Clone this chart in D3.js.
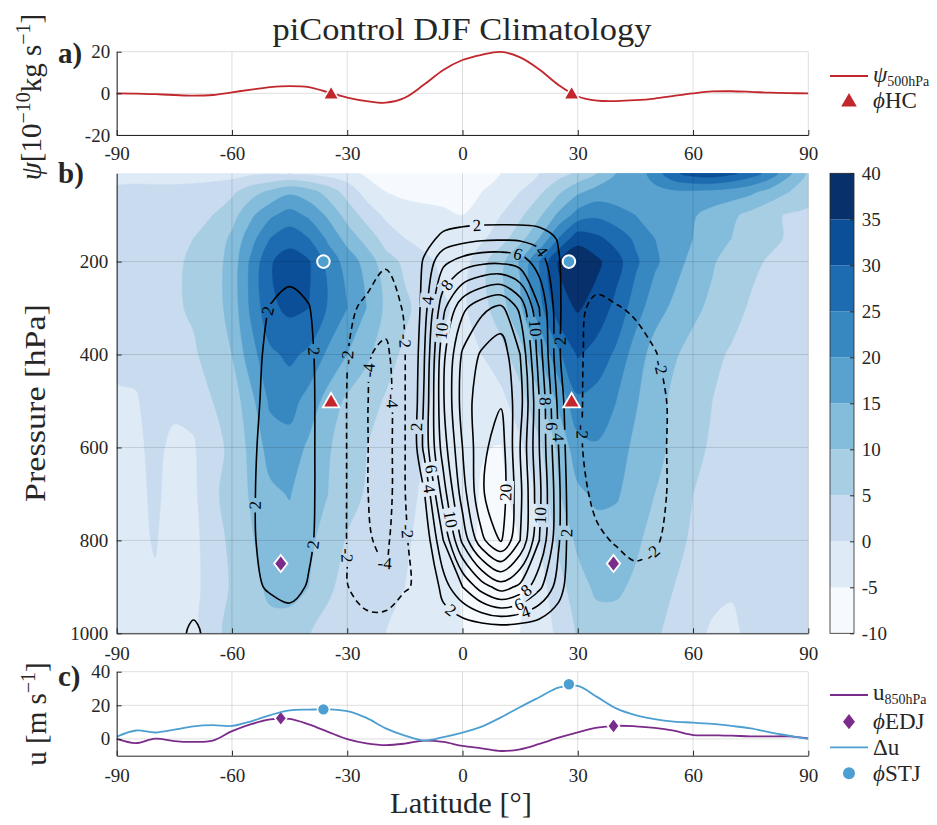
<!DOCTYPE html>
<html><head><meta charset="utf-8">
<script src="https://cdn.jsdelivr.net/npm/d3@7/dist/d3.min.js"></script>
<style>
body{margin:0;background:#fff;}
svg text{font-family:"Liberation Serif","Times New Roman",serif;fill:#262626;}
</style></head>
<body><svg id="chart" width="937" height="825" xmlns="http://www.w3.org/2000/svg"></svg>
<script>
// ---------------- DATA ----------------
const latTicks = [-90,-60,-30,0,30,60,90];
const psiTicks = [-20,0,20];
const presTicks = [200,400,600,800,1000];
const uTicks = [0,20,40];
const cbTicks = [-10,-5,0,5,10,15,20,25,30,35,40];

const lineLat = [-90,-85,-80,-75,-70,-65,-60,-55,-50,-45,-40,-35,-30,-25,-20,-15,-10,-5,0,5,10,15,20,25,30,35,40,45,50,55,60,65,70,75,80,85,90];
const psi500 = [0,-0.1,-0.4,-0.8,-1.1,-0.8,0.5,1.8,3,3.5,3,0.5,-2,-3.7,-4.5,-2.1,4.2,11.2,16,18.5,19.9,17.3,11.5,4,-1.5,-3.5,-3.7,-3.3,-2.5,-1.2,0,0.9,1,0.7,0.3,0.1,0];
const u850 = [0,-2.5,0.2,-1.3,-1.8,-1.0,4.6,8.8,11.6,11.9,8.6,4.2,-0.1,-2.6,-3.7,-2.8,-1.0,-1.8,-4.2,-5.6,-7.2,-6.2,-3,0.7,3.9,6.7,7.8,7.5,6.6,4.9,2.3,2.1,1.9,1.5,1.5,1.5,0.3];
const deltaU = [1.3,5,3.8,5.5,7.5,8.2,7.7,10.5,14.2,17,17.4,17.6,16.5,12.5,6.3,2,-1,1,3.7,7.3,12.8,19,24.8,30.5,31.5,25,18.2,14.2,11.8,10.3,9.7,8.9,7.7,6.3,3.9,1.9,0];

const hcLat = [-34.2, 28.4];   const hcPsi = [0, 0];      const hcPres = [500, 500];
const stjLat = [-36.2, 27.7];  const stjU = [17.6, 32.5]; const stjPres = [200, 200];
const edjLat = [-47.3, 39.3];  const edjU = [12.3, 7.7];  const edjPres = [850, 850];

// zonal-mean field grid (columns = latitude, entries = pressure levels)
const gridLat = lineLat;
const gridPres = [10,50,100,150,200,300,400,500,600,700,800,900,1000];
const uCols = [
 [-2,1,2,2.5,2.5,2.5,0.8,-0.5,-1,-1,-1,-1.2,-1.5],
 [-2,1.5,3,3,3,3,1,-0.3,-0.8,-1,-1,-1.2,-1.5],
 [-3,2,3.5,3.5,3.5,3.5,2.5,1.5,1,0.7,0.3,-0.5,-1],
 [-3,2,4,4,4.5,4.5,3,1,-1,-1.5,-2,-2,-2],
 [-3,2.5,4.5,5,5.5,5.5,4.5,1.5,-0.5,-1,-1.5,-1.5,-1.5],
 [-2.5,3,5,6.5,7.5,7.5,6.5,5,3.5,4,3,2.5,3.5],
 [-2,4,8,11,12,12,10,7,6,7,6,5.5,6.5],
 [-1,8,14,18,21,21,18,13.5,11.5,10.5,9.5,8.5,7.5],
 [-0.5,11,19,25,29.5,29,24,21,17,14,12.5,11,8.5],
 [0,14,22,28,32.5,31,26,22,18,15.3,13,11.5,8],
 [-1,12,19,25,30.5,30,24,18,14,11.5,11,10,5.2],
 [-2,8,14,19,23,24.5,19,13,10.5,10,8,6,3],
 [-3,3,8,13,18,20,15,9,7.5,7,4.5,3,1],
 [-6,-2,3,8,13,15,11,7,5,4.5,3,2,0.5],
 [-8,-5,-1,3,7,9,7,4.5,3,2.5,2,1,0],
 [-8,-6,-3,0,4,6,4,2.5,1.5,1,0.5,0,-1],
 [-7,-6,-4,-1.5,1,3,1.5,0.5,0,-0.5,-1,-1.5,-2],
 [-6.5,-6,-4.5,-2.5,-1,0.5,-0.5,-1,-1.5,-2,-2.5,-3.5,-3.5],
 [-6.5,-6,-5,-3,-2.5,-1,-1.5,-2,-2.5,-3.5,-4,-5.2,-5],
 [-6,-5,-3.5,-1,3.5,3,0,-2.5,-4.8,-5.3,-5.5,-6,-5.5],
 [-5,-3,0,3,8.5,8,3,-1.5,-5.2,-5.6,-6,-6.5,-6],
 [-3,0,4,8,15.5,14,8,3,-1,-4,-5,-5.5,-5],
 [0,4,9,15,25,23,15,9,4,1,0,-2,-3],
 [3,9,16,25,35.5,33,24,16,11,9.5,6,3,1],
 [6,14,22,33,39,35.5,30.5,24,18,14,11,8,5.5],
 [10,17,24,31,36,33,28,23,19.5,16,13,11,7.5],
 [15,17,22,28,32,28.5,24,20,17,15.5,13,11,7.5],
 [17,18,20,24,26,22.5,17.5,15.5,14,13,11,9,6.5],
 [22,18.5,18.5,20,21,17,13,12,11.5,10,8,7,5.5],
 [29,19,17.5,17.5,17,14,10.5,9,9,7.5,6,5,4],
 [32,19,15.5,15,13.5,11,8.5,7,6,5,4.5,4,2],
 [33,18.5,13,12,10.5,9,6,5,4.5,4,3.5,2,-1],
 [31,17.5,11,10,8,6.5,4.5,3.5,3.5,3,2.5,0.5,-1],
 [27.5,16,8.5,8,6,4.5,3.5,3,3,2.5,2,1.5,1],
 [23,13,6,6,4.5,3.5,3,2.5,2.5,2,1.5,1,0.5],
 [16,10,4.5,4.5,3.5,2.5,2.5,2,1.5,1.5,1,1,1],
 [9,7,4,3.5,3,2,2,1.5,1,1,1,1,1]
];
const psiCols = [
 [0,0,0,0,0,0,0,0,0,0,0,0,0],
 [0,0,0,0,0,0,0,0,0,0,0,0,0.1],
 [0,0,0,0,0,0,0.1,0.1,0.2,0.2,0.2,0.3,0.5],
 [0,0,0,0,0.1,0.2,0.2,0.3,0.3,0.3,0.3,0.4,1.0],
 [0,0,0,0,0.1,0.2,0.3,0.3,0.3,0.3,0.3,0.5,2.6],
 [0,0,0,0.1,0.1,0.2,0.3,0.3,0.3,0.3,0.3,0.4,1.0],
 [0,0,0,0.1,0.2,0.4,0.6,0.6,0.6,0.6,0.6,0.5,0.3],
 [0,0,0.1,0.2,0.4,1.0,1.3,1.5,1.7,1.8,1.8,1.5,0.2],
 [0,0,0.2,0.5,0.8,2.1,2.5,2.6,2.7,2.7,2.6,2.3,0.3],
 [0,0,0.2,0.6,1.3,2.6,2.9,3.1,3.2,3.2,3.0,2.8,0.5],
 [0,0,0.2,0.5,1.0,2.1,2.4,2.5,2.5,2.5,2.4,1.8,0.3],
 [0,0,0.1,0.2,0.2,0.6,0.9,0.9,0.9,0.9,0.8,0.5,0],
 [0,0,-0.1,-0.3,-0.6,-1.6,-1.95,-2.1,-2.1,-2.1,-2.1,-1.9,-0.3],
 [0,0,-0.1,-0.4,-1.0,-2.4,-3.8,-3.9,-3.9,-3.9,-3.8,-3.5,-0.5],
 [0,0,-0.1,-0.5,-1.8,-3.0,-4.5,-5.0,-5.0,-5.0,-4.4,-3.6,-0.5],
 [0,0,0,-0.4,-1.0,-1.8,-2.1,-2.1,-2.1,-2.1,-2.4,-2.2,-0.3],
 [0,0,0.3,1.0,2.3,3.0,3.8,4.2,4.5,1.8,0.2,-1.5,-0.2],
 [0,0,0.6,2.6,5.5,9.5,11.5,11.8,11.0,9.0,6.0,3.0,0],
 [0,0,0.8,3.2,6.8,13.5,16.3,16.8,16.0,15.0,12.5,6.0,0],
 [0,0,0.8,3.6,7.5,15.5,18.3,19.2,19.5,19.8,17.5,9.0,0],
 [0,0,0.8,3.7,7.6,16.5,19.2,19.8,21.0,21.2,20.2,11.0,0],
 [0,0,0.8,3.6,7.0,13.5,16.0,16.8,16.0,16.5,16.0,9.5,0],
 [0,0,0.7,3.2,5.0,8.0,9.0,10.0,10.0,10.5,10.0,6.5,0],
 [0,0,0.5,1.8,2.2,2.5,2.4,3.4,4.0,4.5,4.3,3.0,0],
 [0,0,0,-0.2,-0.5,-1.6,-1.8,-1.8,-1.8,-1.6,-1.2,-0.6,0],
 [0,0,0,-0.2,-0.8,-2.5,-2.5,-2.6,-2.6,-2.3,-1.8,-1.0,0],
 [0,0,0,-0.2,-0.9,-2.1,-2.7,-2.9,-2.9,-2.7,-2.1,-1.3,0],
 [0,0,0,-0.2,-0.7,-1.8,-2.6,-2.9,-2.9,-2.8,-2.4,-1.5,0],
 [0,0,0,-0.1,-0.5,-1.3,-2.1,-2.5,-2.5,-2.5,-2.2,-1.3,0],
 [0,0,0,0,-0.3,-0.8,-1.4,-1.7,-1.7,-1.7,-1.5,-0.9,0],
 [0,0,0,0,-0.1,-0.3,-0.5,-0.6,-0.6,-0.6,-0.5,-0.3,0],
 [0,0,0,0,0,0,0,0,0,0,0,0,0],
 [0,0,0,0,0,0,0,0,0,0,0,0,0],
 [0,0,0,0,0,0,0,0,0,0,0,0,0],
 [0,0,0,0,0,0,0,0,0,0,0,0,0],
 [0,0,0,0,0,0,0,0,0,0,0,0,0],
 [0,0,0,0,0,0,0,0,0,0,0,0,0]
];
const uLevels = [-10,-5,0,5,10,15,20,25,30,35,40];
const uColors = ["#f6fafe","#deebf7","#c9dcef","#a8cee4","#84bcdb","#59a2cf","#3787c0","#1d6cb1","#0b4f98","#08306b"];
const psiPosLevels = [2,4,6,8,10,12,14,16,18,20];
const psiNegLevels = [-2,-4];
const lblLevel = [2,2,2,2,-2,-2,-4,-4,-2,-2,-4,2,6,4,10,20,10,2,8,6,4,2,2,6,4,8,4,10,10,2,8,6,4,-2,-2,-2];
const lblLat   = [-50.1,-38.8,-53.1,-39.2,-29.7,-15,-24.9,-18.4,-13.7,-30.1,-21.5,-12.2,-8,-9.3,-3.3,8.5,18.9,27.1,16.7,14.5,16.3,-3.3,3.7,14.5,21,-5.9,-9.8,-6.7,19.3,25.4,21.5,22.8,24.5,50.5,31.9,49.7];
const lblPres  = [307,394,724,810,408,370,435,501,781,831,867,556,648,691,756,695,745,785,907,935,953,953,132,178,178,239,282,347,343,372,501,555,577,430,566,831];

// ---------------- LAYOUT ----------------
const X0 = 116.7, X1 = 808.3;
const A = {top:51.7, bot:135}, B = {top:173.3, bot:633.3}, C = {top:671.7, bot:755.7};
const CB = {x0:830, x1:854};
const INK = "#262626";
const RED = "#c1272d", PURPLE = "#7b2c8b", LBLUE = "#4c9fd0";
const FONT = '"Liberation Serif","Times New Roman",serif';

const x = d3.scaleLinear([-90,90],[X0,X1]);
const yA = d3.scaleLinear([-20,20],[A.bot,A.top]);
const yB = d3.scaleLinear([10,1000],[B.top,B.bot]);
const yC = d3.scaleLinear([-10,40],[C.bot,C.top]);
const yCB = d3.scaleLinear([-10,40],[B.bot,B.top]);

const svg = d3.select("#chart");
const defs = svg.append("defs");
defs.append("clipPath").attr("id","clipB").append("rect")
  .attr("x",X0).attr("y",B.top).attr("width",X1-X0).attr("height",B.bot-B.top);
defs.append("clipPath").attr("id","clipA").append("rect")
  .attr("x",X0).attr("y",A.top-20).attr("width",X1-X0).attr("height",A.bot-A.top+40);
defs.append("clipPath").attr("id","clipC").append("rect")
  .attr("x",X0).attr("y",C.top-20).attr("width",X1-X0).attr("height",C.bot-C.top+40);

// ---------- helpers ----------
function styleAxis(g, size){
  g.attr("font-family",FONT).attr("font-size",size||19);
  g.selectAll("path.domain").attr("stroke",INK).attr("stroke-width",1);
  g.selectAll(".tick line").attr("stroke",INK).attr("stroke-width",1);
  g.selectAll(".tick text").attr("fill",INK).style("font-family",FONT);
}
function grid(g, ys, yscale, top, bot){
  latTicks.forEach(t=>g.append("line").attr("x1",x(t)).attr("x2",x(t)).attr("y1",top).attr("y2",bot)
    .attr("stroke","#000").attr("stroke-opacity",0.13).attr("stroke-width",1));
  ys.forEach(t=>g.append("line").attr("x1",X0).attr("x2",X1).attr("y1",yscale(t)).attr("y2",yscale(t))
    .attr("stroke","#000").attr("stroke-opacity",0.13).attr("stroke-width",1));
}
const tallDiamond = {draw(c,s){const h=Math.sqrt(s)*0.62,w=h*0.78;c.moveTo(0,-h);c.lineTo(w,0);c.lineTo(0,h);c.lineTo(-w,0);c.closePath();}};
const triSym = d3.symbol().type(d3.symbolTriangle);
const diaSym = d3.symbol().type(tallDiamond);

// ================= PANEL A =================
const gA = svg.append("g");
grid(gA, psiTicks, yA, A.top, A.bot);
gA.append("path").datum(lineLat.map((l,i)=>[l,psi500[i]]))
  .attr("clip-path","url(#clipA)")
  .attr("d", d3.line().x(d=>x(d[0])).y(d=>yA(d[1])).curve(d3.curveCatmullRom.alpha(0.5)))
  .attr("fill","none").attr("stroke",RED).attr("stroke-width",1.8);
gA.selectAll("path.hc").data(hcLat).join("path").attr("class","hc")
  .attr("transform",(d,i)=>`translate(${x(d)},${yA(hcPsi[i])+1.5})`)
  .attr("d",triSym.size(105)()).attr("fill",RED).attr("stroke","#fff").attr("stroke-width",1.5);
styleAxis(gA.append("g").attr("transform",`translate(0,${A.bot})`)
  .call(d3.axisBottom(x).tickValues(latTicks).tickSizeInner(-5).tickSizeOuter(0).tickPadding(11.5).tickFormat(d=>String(d))));
styleAxis(gA.append("g").attr("transform",`translate(${X0},0)`)
  .call(d3.axisLeft(yA).tickValues(psiTicks).tickSizeInner(-5).tickSizeOuter(0).tickPadding(6.5).tickFormat(d=>String(d))));

// ================= PANEL B =================
const nx = gridLat.length, ny = gridPres.length;
function flat(cols){const v=new Array(nx*ny);for(let j=0;j<ny;j++)for(let i=0;i<nx;i++)v[j*nx+i]=cols[i][j];return v;}
const uVals = flat(uCols), psiVals = flat(psiCols);
const iToLat = d3.scaleLinear([0,nx-1],[gridLat[0],gridLat[nx-1]]);
const jToP = d3.scaleLinear(d3.range(ny), gridPres);
const proj = pt => [x(iToLat(pt[0]-0.5)), yB(jToP(pt[1]-0.5))];
const ringLine = d3.line().curve(d3.curveCatmullRomClosed.alpha(0.5));
function ringD(ring){
  let r = ring;
  const f=r[0], l=r[r.length-1];
  if(f[0]===l[0] && f[1]===l[1]) r = r.slice(0,-1);
  return ringLine(r.map(proj));
}
function multiD(mp){ return mp.coordinates.map(poly=>poly.map(ringD).join("")).join(""); }

const gB = svg.append("g");
const gFill = gB.append("g").attr("clip-path","url(#clipB)");
gFill.append("rect").attr("x",X0).attr("y",B.top).attr("width",X1-X0).attr("height",B.bot-B.top).attr("fill",uColors[0]);
const fillContours = d3.contours().size([nx,ny]).thresholds(uLevels.slice(1,-1))(uVals);
gFill.selectAll("path.band").data(fillContours).join("path").attr("class","band")
  .attr("d",multiD).attr("fill",(d,i)=>uColors[i+1]).attr("stroke",(d,i)=>uColors[i+1]).attr("stroke-width",0.4);

// psi contour lines
const mask = defs.append("mask").attr("id","lblMask").attr("maskUnits","userSpaceOnUse")
  .attr("x",0).attr("y",0).attr("width",937).attr("height",825);
mask.append("rect").attr("x",0).attr("y",0).attr("width",937).attr("height",825).attr("fill","#fff");
const gLinesClip = gB.append("g").attr("clip-path","url(#clipB)");
const gLines = gLinesClip.append("g").attr("mask","url(#lblMask)");
const lineEls = [];
const posC = d3.contours().size([nx,ny]).thresholds(psiPosLevels)(psiVals);
const negC = d3.contours().size([nx,ny]).thresholds(psiNegLevels.map(v=>-v))(psiVals.map(v=>-v));
posC.forEach(c=>c.coordinates.forEach(poly=>poly.forEach(ring=>{
  const p = gLines.append("path").attr("d",ringD(ring)).attr("fill","none").attr("stroke","#000").attr("stroke-width",1.6);
  lineEls.push({level:c.value,node:p.node()});
})));
negC.forEach(c=>c.coordinates.forEach(poly=>poly.forEach(ring=>{
  const p = gLines.append("path").attr("d",ringD(ring)).attr("fill","none").attr("stroke","#000").attr("stroke-width",1.6)
    .attr("stroke-dasharray","6,4");
  lineEls.push({level:-c.value,node:p.node()});
})));
// contour labels
const gLbl = gB.append("g").attr("clip-path","url(#clipB)");
lblLevel.forEach((lv,k)=>{
  const ax = x(lblLat[k]), ay = yB(lblPres[k]);
  let best=null;
  lineEls.filter(e=>e.level===lv).forEach(e=>{
    const L = e.node.getTotalLength();
    for(let s=0;s<=L;s+=1.5){const pt=e.node.getPointAtLength(s);const d=(pt.x-ax)**2+(pt.y-ay)**2;
      if(!best||d<best.d)best={d,s,L,node:e.node,pt};}
  });
  let px=ax, py=ay, ang=0;
  if(best && best.d < 30*30){
    px=best.pt.x; py=best.pt.y;
    const a=best.node.getPointAtLength(Math.max(0,best.s-6)), b=best.node.getPointAtLength(Math.min(best.L,best.s+6));
    ang = Math.atan2(b.y-a.y,b.x-a.x)*180/Math.PI;
    if(ang>90)ang-=180; if(ang<-90)ang+=180;
  }
  const txt = String(lv);
  const w = txt.length*8.5+6;
  mask.append("rect").attr("x",-w/2).attr("y",-8).attr("width",w).attr("height",16).attr("fill","#000")
    .attr("transform",`translate(${px},${py}) rotate(${ang})`);
  gLbl.append("text").attr("transform",`translate(${px},${py}) rotate(${ang})`)
    .attr("text-anchor","middle").attr("dy","0.33em").attr("font-size",17).style("fill","#000").text(txt);
});
// grid over fill
grid(gB, presTicks, yB, B.top, B.bot);
// markers panel B
gB.selectAll("circle.stj").data(stjLat).join("circle").attr("class","stj")
  .attr("cx",d=>x(d)).attr("cy",(d,i)=>yB(stjPres[i])).attr("r",6.3)
  .attr("fill",LBLUE).attr("stroke","#fff").attr("stroke-width",2);
gB.selectAll("path.hcb").data(hcLat).join("path").attr("class","hcb")
  .attr("transform",(d,i)=>`translate(${x(d)},${yB(hcPres[i])+1.5})`)
  .attr("d",triSym.size(120)()).attr("fill",RED).attr("stroke","#fff").attr("stroke-width",1.8);
gB.selectAll("path.edjb").data(edjLat).join("path").attr("class","edjb")
  .attr("transform",(d,i)=>`translate(${x(d)},${yB(edjPres[i])})`)
  .attr("d",diaSym.size(190)()).attr("fill",PURPLE).attr("stroke","#fff").attr("stroke-width",1.8);
styleAxis(gB.append("g").attr("transform",`translate(0,${B.bot})`)
  .call(d3.axisBottom(x).tickValues(latTicks).tickSizeInner(-5).tickSizeOuter(0).tickPadding(13).tickFormat(d=>String(d))));
styleAxis(gB.append("g").attr("transform",`translate(${X0},0)`)
  .call(d3.axisLeft(yB).tickValues(presTicks).tickSizeInner(-5).tickSizeOuter(0).tickPadding(8.4).tickFormat(d=>String(d))));
// colorbar
const gCB = svg.append("g");
uColors.forEach((c,i)=>gCB.append("rect").attr("x",CB.x0).attr("width",CB.x1-CB.x0)
  .attr("y",yCB(uLevels[i+1])).attr("height",yCB(uLevels[i])-yCB(uLevels[i+1])).attr("fill",c));
gCB.append("rect").attr("x",CB.x0).attr("y",B.top).attr("width",CB.x1-CB.x0).attr("height",B.bot-B.top)
  .attr("fill","none").attr("stroke",INK).attr("stroke-width",0.8);
styleAxis(gCB.append("g").attr("transform",`translate(${CB.x1},0)`)
  .call(d3.axisRight(yCB).tickValues(cbTicks).tickSizeInner(-4).tickSizeOuter(0).tickPadding(7.7).tickFormat(d=>String(d))));
gCB.selectAll("path.domain").remove();

// ================= PANEL C =================
const gC = svg.append("g");
grid(gC, uTicks, yC, C.top, C.bot);
const lineC = d3.line().x(d=>x(d[0])).y(d=>yC(d[1])).curve(d3.curveCatmullRom.alpha(0.5));
gC.append("path").datum(lineLat.map((l,i)=>[l,u850[i]])).attr("clip-path","url(#clipC)")
  .attr("d",lineC).attr("fill","none").attr("stroke",PURPLE).attr("stroke-width",1.8);
gC.selectAll("path.edjc").data(edjLat).join("path").attr("class","edjc")
  .attr("transform",(d,i)=>`translate(${x(d)},${yC(edjU[i])})`)
  .attr("d",diaSym.size(150)()).attr("fill",PURPLE).attr("stroke","#fff").attr("stroke-width",1.6);
gC.append("path").datum(lineLat.map((l,i)=>[l,deltaU[i]])).attr("clip-path","url(#clipC)")
  .attr("d",lineC).attr("fill","none").attr("stroke",LBLUE).attr("stroke-width",1.8);
gC.selectAll("circle.stjc").data(stjLat).join("circle").attr("class","stjc")
  .attr("cx",d=>x(d)).attr("cy",(d,i)=>yC(stjU[i])).attr("r",6)
  .attr("fill",LBLUE).attr("stroke","#fff").attr("stroke-width",1.6);
styleAxis(gC.append("g").attr("transform",`translate(0,${C.bot})`)
  .call(d3.axisBottom(x).tickValues(latTicks).tickSizeInner(-5).tickSizeOuter(0).tickPadding(12.5).tickFormat(d=>String(d))));
styleAxis(gC.append("g").attr("transform",`translate(${X0},0)`)
  .call(d3.axisLeft(yC).tickValues(uTicks).tickSizeInner(-5).tickSizeOuter(0).tickPadding(6.5).tickFormat(d=>String(d))));

// ================= TEXTS =================
svg.append("text").attr("x",462).attr("y",40).attr("text-anchor","middle").attr("font-size",32)
  .attr("textLength",379).attr("lengthAdjust","spacingAndGlyphs").text("piControl DJF Climatology");
svg.append("text").attr("x",58).attr("y",63).attr("font-size",29).attr("font-weight","bold").text("a)");
svg.append("text").attr("x",58).attr("y",183).attr("font-size",29).attr("font-weight","bold").text("b)");
svg.append("text").attr("x",58).attr("y",686).attr("font-size",29).attr("font-weight","bold").text("c)");
// y labels
const ylA = svg.append("text").attr("transform","translate(41,97) rotate(-90)").attr("text-anchor","middle").attr("font-size",29);
ylA.append("tspan").attr("font-style","italic").text("ψ");
ylA.append("tspan").text("[10");
ylA.append("tspan").attr("font-size",20).attr("dy",-11).text("−10");
ylA.append("tspan").attr("dy",11).text("kg s");
ylA.append("tspan").attr("font-size",20).attr("dy",-11).text("−1");
ylA.append("tspan").attr("dy",11).text("]");
svg.append("text").attr("transform","translate(45,403) rotate(-90)").attr("text-anchor","middle").attr("font-size",30)
  .attr("textLength",198).attr("lengthAdjust","spacingAndGlyphs").text("Pressure [hPa]");
const ylC = svg.append("text").attr("transform","translate(46,714) rotate(-90)").attr("text-anchor","middle").attr("font-size",29);
ylC.append("tspan").text("u [m s");
ylC.append("tspan").attr("font-size",20).attr("dy",-11).text("−1");
ylC.append("tspan").attr("dy",11).text("]");
svg.append("text").attr("x",461).attr("y",813).attr("text-anchor","middle").attr("font-size",30)
  .attr("textLength",142).attr("lengthAdjust","spacingAndGlyphs").text("Latitude [°]");

// legends
const gL = svg.append("g");
gL.append("line").attr("x1",830).attr("x2",868).attr("y1",76).attr("y2",76).attr("stroke",RED).attr("stroke-width",1.8);
const lt1 = gL.append("text").attr("x",873).attr("y",82).attr("font-size",23);
lt1.append("tspan").attr("font-style","italic").text("ψ");
lt1.append("tspan").attr("font-size",14).attr("dy",4).text("500hPa");
gL.append("path").attr("transform","translate(849,102)").attr("d",triSym.size(105)()).attr("fill",RED);
const lt2 = gL.append("text").attr("x",873).attr("y",108).attr("font-size",23);
lt2.append("tspan").attr("font-style","italic").text("ϕ");
lt2.append("tspan").text("HC");

gL.append("line").attr("x1",830).attr("x2",868).attr("y1",695).attr("y2",695).attr("stroke",PURPLE).attr("stroke-width",1.8);
const lt3 = gL.append("text").attr("x",873).attr("y",700).attr("font-size",23);
lt3.append("tspan").text("u");
lt3.append("tspan").attr("font-size",14).attr("dy",4).text("850hPa");
gL.append("path").attr("transform","translate(849,721.7)").attr("d",diaSym.size(150)()).attr("fill",PURPLE);
const lt4 = gL.append("text").attr("x",873).attr("y",729).attr("font-size",23);
lt4.append("tspan").attr("font-style","italic").text("ϕ");
lt4.append("tspan").text("EDJ");
gL.append("line").attr("x1",830).attr("x2",868).attr("y1",747.3).attr("y2",747.3).attr("stroke",LBLUE).attr("stroke-width",1.8);
gL.append("text").attr("x",873).attr("y",755).attr("font-size",23).text("Δu");
gL.append("circle").attr("cx",849).attr("cy",773.3).attr("r",6).attr("fill",LBLUE);
const lt5 = gL.append("text").attr("x",873).attr("y",781).attr("font-size",23);
lt5.append("tspan").attr("font-style","italic").text("ϕ");
lt5.append("tspan").text("STJ");
</script>
</body></html>
